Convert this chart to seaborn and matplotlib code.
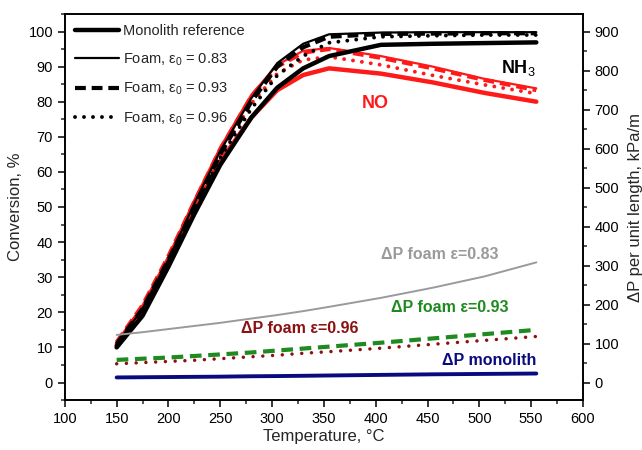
import matplotlib
matplotlib.use("Agg")
import matplotlib.pyplot as plt
from matplotlib.lines import Line2D
from matplotlib.ticker import MultipleLocator
import seaborn as sns
import pandas as pd

# ---- data ----
temperature = [150, 175, 200, 225, 250, 280, 305, 330, 355, 405, 455, 505, 555]

nh3_monolith = [10, 19, 33, 48, 62, 75.5, 84, 89.5, 93, 96.2, 96.5, 96.7, 96.9]
nh3_foam_083 = [11, 21, 35, 51, 66, 81, 91, 96.5, 99.2, 99.7, 99.8, 99.8, 99.8]
nh3_foam_093 = [11, 21, 35, 50, 65, 80, 90, 95.5, 98.5, 99.3, 99.4, 99.5, 99.5]
nh3_foam_096 = [10.5, 20, 34, 49, 64, 78, 87.5, 93, 96.8, 98.5, 98.8, 99, 99]

no_monolith = [10.5, 20, 34, 49, 63, 75.5, 83.3, 87.6, 89.5, 88, 85.5, 82.5, 80]
no_foam_083 = [11.5, 22, 36, 52, 67, 82, 90.5, 94.5, 95.3, 93, 90, 86.5, 83.8]
no_foam_093 = [11.5, 22, 36, 51.5, 66.5, 81.5, 90, 94, 95, 92.5, 89.5, 86.2, 83.3]
no_foam_096 = [11, 21, 35, 50, 65, 79.5, 88, 91.9, 92.8, 90.5, 87.5, 84.8, 82.3]

dp_foam_083 = [122, 129, 137, 145, 153, 164, 173, 183, 194, 217, 243, 272, 308]
dp_foam_093 = [58, 61, 64, 68, 72, 77, 82, 87, 92, 102, 113, 124, 135]
dp_foam_096 = [48, 51, 54, 57, 61, 66, 70, 75, 79, 88, 98, 108, 118]
dp_monolith = [13, 13.5, 14, 14.5, 15, 16, 16.5, 17.2, 18, 19.5, 21, 22, 23]

legend_labels = ["Monolith reference", "Foam, ε$_0$ = 0.83",
                 "Foam, ε$_0$ = 0.93", "Foam, ε$_0$ = 0.96"]

# ---- style ----
sns.set_style("ticks")
plt.rcParams['font.family'] = ['Liberation Sans', 'DejaVu Sans']
plt.rcParams['mathtext.fontset'] = 'custom'
plt.rcParams['mathtext.rm'] = 'Liberation Sans'
plt.rcParams['mathtext.it'] = 'Liberation Sans'

RED = '#ff1a1a'
GRAY = '#9a9a9a'
GREEN = '#1f8a1f'
DRED = '#8b1010'
NAVY = '#0a0a80'

fig = plt.figure(figsize=(6.42, 4.5), dpi=100)
ax = fig.add_axes([0.101, 0.111, 0.807, 0.858])
ax2 = ax.twinx()

styles = {
    'mono': dict(linestyle='-', lw=3.2),
    'f083': dict(linestyle='-', lw=1.6),
    'f093': dict(linestyle=(0, (2.6, 1.4)), lw=3.0),
    'f096': dict(linestyle=(0, (0.01, 2.3)), lw=2.8, dash_capstyle='round'),
}

def draw(axis, y, color, st, z=2):
    df = pd.DataFrame({'T': temperature, 'v': y})
    sns.lineplot(data=df, x='T', y='v', ax=axis, color=color, zorder=z,
                 legend=False, **st)

# conversion curves
draw(ax, no_foam_083, RED, styles['f083'])
draw(ax, no_foam_093, RED, styles['f093'])
draw(ax, no_foam_096, RED, styles['f096'])
draw(ax, no_monolith, RED, styles['mono'])
draw(ax, nh3_foam_083, 'black', styles['f083'])
draw(ax, nh3_foam_093, 'black', styles['f093'])
draw(ax, nh3_foam_096, 'black', styles['f096'])
draw(ax, nh3_monolith, 'black', styles['mono'])

# pressure drop curves
draw(ax2, dp_foam_083, GRAY, dict(linestyle='-', lw=1.4))
draw(ax2, dp_foam_093, GREEN, dict(linestyle=(0, (2.8, 1.6)), lw=3.0))
draw(ax2, dp_foam_096, DRED, dict(linestyle=(0, (0.01, 2.8)), lw=2.5, dash_capstyle='round'))
draw(ax2, dp_monolith, NAVY, dict(linestyle='-', lw=2.8))

# axes
ax.set_xlim(100, 600)
ax.set_ylim(-5, 105)
ax2.set_ylim(-45, 945)
ax.xaxis.set_major_locator(MultipleLocator(50))
ax.xaxis.set_minor_locator(MultipleLocator(25))
ax.yaxis.set_major_locator(MultipleLocator(10))
ax.yaxis.set_minor_locator(MultipleLocator(5))
ax2.yaxis.set_major_locator(MultipleLocator(100))
ax2.yaxis.set_minor_locator(MultipleLocator(50))
ax2.set_yticks(range(0, 1000, 100))

for a in (ax, ax2):
    a.tick_params(which='major', direction='out', length=5, width=1.1, labelsize=10.5, colors='black')
    a.tick_params(which='minor', direction='out', length=3, width=1.1)
    for s in a.spines.values():
        s.set_linewidth(1.2)
        s.set_color('black')
ax.tick_params(axis='x', which='both', top=False)
ax2.tick_params(axis='x', which='both', top=False)

ax.set_xlabel("Temperature, °C", fontsize=12, labelpad=2)
ax.set_ylabel("Conversion, %", fontsize=12, labelpad=4)
ax2.set_ylabel("ΔP per unit length, kPa/m", fontsize=12, labelpad=6)

# annotations
ax.text(538, 89.5, "NH$_3$", fontsize=13, fontweight='bold', ha='center', va='center', color='black')
ax.text(400, 79.5, "NO", fontsize=13, fontweight='bold', ha='center', va='center', color=RED)
ax.text(462, 36.5, "ΔP foam ε=0.83", fontsize=11.5, fontweight='bold', ha='center', va='center', color=GRAY)
ax.text(471, 21.3, "ΔP foam ε=0.93", fontsize=11.5, fontweight='bold', ha='center', va='center', color=GREEN)
ax.text(327, 15.3, "ΔP foam ε=0.96", fontsize=11.5, fontweight='bold', ha='center', va='center', color=DRED)
ax.text(510, 6.4, "ΔP monolith", fontsize=11.5, fontweight='bold', ha='center', va='center', color=NAVY)

handles = [Line2D([], [], color='black', **styles[k]) for k in ('mono', 'f083', 'f093', 'f096')]
leg = ax.legend(handles, legend_labels, loc='upper left', frameon=False, fontsize=10.5,
                handlelength=3.0, handletextpad=0.3, labelspacing=0.9,
                borderaxespad=0.3, bbox_to_anchor=(0.0, 1.0))

fig.savefig("out.png", dpi=100)
